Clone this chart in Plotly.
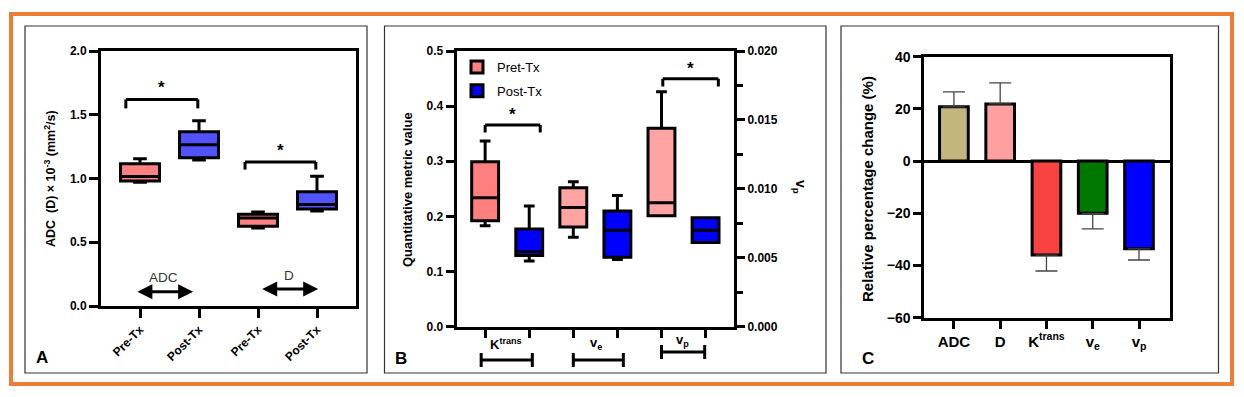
import plotly.graph_objects as go

W, H = 1244, 397
FONT = "Liberation Sans, Arial, sans-serif"

# ---------------- Panel A data ----------------
a_labels = ["Pre-Tx", "Post-Tx", "Pre-Tx", "Post-Tx"]
a_min = [0.97, 1.145, 0.612, 0.745]
a_q1 = [0.98, 1.163, 0.625, 0.761]
a_med = [1.015, 1.265, 0.690, 0.797]
a_q3 = [1.115, 1.367, 0.719, 0.897]
a_max = [1.155, 1.453, 0.737, 1.017]
a_colors = ["#ff8080", "#5252ff", "#ff8080", "#5252ff"]
a_groups = ["ADC", "D"]

# ---------------- Panel B data ----------------
b_params = ["K<sup>trans</sup>", "v<sub>e</sub>", "v<sub>p</sub>"]
b_pre_min = [0.183, 0.162, 0.00805]
b_pre_q1 = [0.192, 0.181, 0.00805]
b_pre_med = [0.234, 0.216, 0.0090]
b_pre_q3 = [0.299, 0.252, 0.0144]
b_pre_max = [0.337, 0.263, 0.01705]
b_post_min = [0.119, 0.122, 0.0061]
b_post_q1 = [0.129, 0.126, 0.0061]
b_post_med = [0.136, 0.175, 0.0070]
b_post_q3 = [0.177, 0.210, 0.0079]
b_post_max = [0.219, 0.238, 0.0079]
b_pre_colors = ["#ff7f7f", "#ffa3a3", "#ffa3a3"]
b_post_color = "#0000ff"

# ---------------- Panel C data ----------------
c_cats = ["ADC", "D", "K<sup>trans</sup>", "v<sub>e</sub>", "v<sub>p</sub>"]
c_vals = [20.8, 21.9, -36.0, -20.0, -33.6]
c_err_plus = [5.7, 8.1, 0, 0, 0]
c_err_minus = [0, 0, 6.1, 6.0, 4.3]
c_colors = ["#c2b67c", "#ffa0a0", "#f94343", "#007800", "#0000ff"]


def px_x(x):
    return x / W


def px_y(y):
    return 1 - y / H


fig = go.Figure()

# Panel A boxes
for i in range(4):
    fig.add_trace(go.Box(
        x=[i], q1=[a_q1[i]], median=[a_med[i]], q3=[a_q3[i]],
        lowerfence=[a_min[i]], upperfence=[a_max[i]],
        fillcolor=a_colors[i], line=dict(color="black", width=3),
        width=0.66, whiskerwidth=0.35, boxpoints=False,
        showlegend=False, xaxis="x", yaxis="y", hoverinfo="skip"))

# Panel B boxes
for j in range(3):
    yax = "y3" if j == 2 else "y2"
    fig.add_trace(go.Box(
        x=[2 * j], q1=[b_pre_q1[j]], median=[b_pre_med[j]], q3=[b_pre_q3[j]],
        lowerfence=[b_pre_min[j]], upperfence=[b_pre_max[j]],
        fillcolor=b_pre_colors[j], line=dict(color="black", width=3),
        width=0.61, whiskerwidth=0.4, boxpoints=False,
        name="Pret-Tx", legendgroup="pre", showlegend=(j == 0),
        xaxis="x2", yaxis=yax, hoverinfo="skip"))
    fig.add_trace(go.Box(
        x=[2 * j + 1], q1=[b_post_q1[j]], median=[b_post_med[j]], q3=[b_post_q3[j]],
        lowerfence=[b_post_min[j]], upperfence=[b_post_max[j]],
        fillcolor=b_post_color, line=dict(color="black", width=3),
        width=0.61, whiskerwidth=0.4, boxpoints=False,
        name="Post-Tx", legendgroup="post", showlegend=(j == 0),
        xaxis="x2", yaxis=yax, hoverinfo="skip"))

# Panel C bars
fig.add_trace(go.Bar(
    x=c_cats, y=c_vals, width=0.62,
    marker=dict(color=c_colors, line=dict(color="black", width=3)),
    error_y=dict(type="data", symmetric=False, array=c_err_plus,
                 arrayminus=c_err_minus, color="#444444", thickness=1.3, width=11),
    showlegend=False, xaxis="x4", yaxis="y4", hoverinfo="skip"))

axis_common = dict(showline=True, linecolor="black", linewidth=3, ticks="outside",
                   tickwidth=3, tickcolor="black", showgrid=False, zeroline=False,
                   mirror=True, automargin=False)

fig.update_layout(
    width=W, height=H, autosize=False, margin=dict(l=0, r=0, t=0, b=0, pad=0),
    paper_bgcolor="white", plot_bgcolor="white", boxmode="overlay",
    font=dict(family=FONT, color="black"),
    xaxis=dict(**axis_common, domain=[px_x(101), px_x(356)], anchor="y",
               range=[-0.661, 3.661], tickvals=[0, 1, 2, 3], ticktext=a_labels,
               tickangle=-45, ticklen=9,
               tickfont=dict(size=12, weight="bold", family=FONT)),
    yaxis=dict(**axis_common, domain=[px_y(306), px_y(51)], anchor="x",
               range=[0, 2.0], dtick=0.5, tickformat=".1f", ticklen=9,
               tickfont=dict(size=12, weight="bold", family=FONT)),
    xaxis2=dict(**axis_common, domain=[px_x(456.7), px_x(734)], anchor="y2",
                range=[-0.645, 5.645], tickvals=[0, 1, 2, 3, 4, 5],
                ticktext=[""] * 6, ticklen=8),
    yaxis2=dict(**{k: v for k, v in axis_common.items() if k != "mirror"},
                domain=[px_y(326.7), px_y(51)], anchor="x2",
                range=[0, 0.5], dtick=0.1, tickformat=".1f", ticklen=8,
                tickfont=dict(size=12, weight="bold", family=FONT)),
    yaxis3=dict(showline=True, linecolor="black", linewidth=3, ticks="outside",
                tickwidth=3, tickcolor="black", showgrid=False, zeroline=False,
                automargin=False,
                overlaying="y2", side="right", anchor="x2",
                range=[0, 0.020], dtick=0.005, tickformat=".3f", ticklen=8,
                minor=dict(ticks="outside", ticklen=6, tickwidth=3,
                           tickcolor="black", dtick=0.0025, showgrid=False),
                tickfont=dict(size=12, weight="bold", family=FONT)),
    xaxis4=dict(**axis_common, domain=[px_x(924.3), px_x(1170)], anchor="y4",
                range=[-0.64, 4.67], ticklen=8,
                tickfont=dict(size=15, weight="bold", family=FONT)),
    yaxis4=dict(**{k: v for k, v in axis_common.items() if k != "zeroline"},
                domain=[px_y(317.7), px_y(56.7)], anchor="x4",
                range=[-60, 40], dtick=20, ticklen=8,
                zeroline=True, zerolinecolor="black", zerolinewidth=3,
                tickfont=dict(size=14, weight="bold", family=FONT)),
    legend=dict(x=px_x(457), y=px_y(52), xanchor="left", yanchor="top",
                bgcolor="rgba(0,0,0,0)", font=dict(size=13, family=FONT),
                tracegroupgap=4, itemwidth=30),
)

shapes = []
# Orange outer border
shapes.append(dict(type="rect", xref="paper", yref="paper",
                   x0=px_x(11), x1=px_x(1232), y0=px_y(384), y1=px_y(14),
                   line=dict(color="#ed7d31", width=4)))
# Panel frames
for (l, r) in [(25, 367), (384.5, 826), (841, 1218.5)]:
    shapes.append(dict(type="rect", xref="paper", yref="paper",
                       x0=px_x(l), x1=px_x(r), y0=px_y(373), y1=px_y(26),
                       line=dict(color="#333333", width=1.2)))


def bracket(xref, yref, x0, x1, ytop, ybot):
    return [
        dict(type="line", xref=xref, yref=yref, x0=x0, x1=x1, y0=ytop, y1=ytop,
             line=dict(color="black", width=3)),
        dict(type="line", xref=xref, yref=yref, x0=x0, x1=x0, y0=ytop, y1=ybot,
             line=dict(color="black", width=3)),
        dict(type="line", xref=xref, yref=yref, x0=x1, x1=x1, y0=ytop, y1=ybot,
             line=dict(color="black", width=3)),
    ]


# Panel A significance brackets
shapes += bracket("x", "y", -0.24, 0.98, 1.62, 1.55)
shapes += bracket("x", "y", 1.78, 2.98, 1.13, 1.07)
# Panel B significance brackets
shapes += bracket("x2", "y2", 0.0, 1.25, 0.366, 0.352)
shapes += bracket("x2", "y2", 4.03, 5.29, 0.4495, 0.4355)

# Panel B I-beams under group labels
for (x0, x1, yc) in [(-0.09, 1.07, 360), (2.0, 3.135, 360), (4.0, 4.98, 352)]:
    shapes.append(dict(type="line", xref="x2", yref="paper", x0=x0, x1=x1,
                       y0=px_y(yc), y1=px_y(yc), line=dict(color="black", width=3)))
    for xx in (x0, x1):
        shapes.append(dict(type="line", xref="x2", yref="paper", x0=xx, x1=xx,
                           y0=px_y(yc - 7), y1=px_y(yc + 7),
                           line=dict(color="black", width=3)))

fig.update_layout(shapes=shapes)

C = dict(xanchor="center", yanchor="middle", showarrow=False)
ann = []
# Stars
for (xr, yr, xx, yy) in [("x", "y", 0.37, 1.71), ("x", "y", 2.38, 1.22),
                         ("x2", "y2", 0.62, 0.385), ("x2", "y2", 4.66, 0.468)]:
    ann.append(dict(xref=xr, yref=yr, x=xx, y=yy, text="*", **C,
                    font=dict(size=17, family=FONT, weight="bold")))

# Panel A double arrows and group labels
for (x0, x1, yy) in [(-0.07, 0.90, 0.112), (2.045, 3.02, 0.133)]:
    ann.append(dict(xref="x", yref="y", axref="x", ayref="y", x=x1, y=yy,
                    ax=x0, ay=yy, text="", showarrow=True, arrowside="end+start",
                    arrowhead=2, startarrowhead=2, arrowsize=1.0,
                    startarrowsize=1.0, arrowwidth=3, arrowcolor="black",
                    standoff=0, startstandoff=0))
for (xx, yy, t) in [(0.39, 0.225, a_groups[0]), (2.525, 0.24, a_groups[1])]:
    ann.append(dict(xref="x", yref="y", x=xx, y=yy, text=t, **C,
                    font=dict(size=13.5, family=FONT, color="#333333")))

# Panel B group labels
for (xx, yy, t) in [(0.47, 344, b_params[0]), (2.52, 343, b_params[1]),
                    (4.48, 340, b_params[2])]:
    ann.append(dict(xref="x2", yref="paper", x=xx, y=px_y(yy), text=t, **C,
                    font=dict(size=13, family=FONT, weight="bold")))

# Axis titles
ann.append(dict(xref="paper", yref="paper", x=px_x(50), y=px_y(179),
                text="ADC  (D) × 10<sup>-3</sup> (mm<sup>2</sup>/s)", textangle=-90,
                **C, font=dict(size=12.5, family=FONT, weight="bold")))
ann.append(dict(xref="paper", yref="paper", x=px_x(407), y=px_y(190),
                text="Quantitative metric value", textangle=-90,
                **C, font=dict(size=13, family=FONT, weight="bold")))
ann.append(dict(xref="paper", yref="paper", x=px_x(800), y=px_y(187),
                text="v<sub>p</sub>", textangle=90,
                **C, font=dict(size=14, family=FONT, weight="bold")))
ann.append(dict(xref="paper", yref="paper", x=px_x(867), y=px_y(189),
                text="Relative percentage change (%)", textangle=-90,
                **C, font=dict(size=15, family=FONT, weight="bold")))

# Panel letters
for (xx, yy, t) in [(42, 357, "A"), (401, 358, "B"), (868, 358, "C")]:
    ann.append(dict(xref="paper", yref="paper", x=px_x(xx), y=px_y(yy), text=t,
                    **C, font=dict(size=17, family=FONT, weight="bold")))

fig.update_layout(annotations=ann)

fig.write_html("out.html", include_plotlyjs=True,
               config={"displayModeBar": False, "responsive": False},
               post_script="document.body.style.margin='0';"
                           "document.documentElement.style.overflow='hidden';")
